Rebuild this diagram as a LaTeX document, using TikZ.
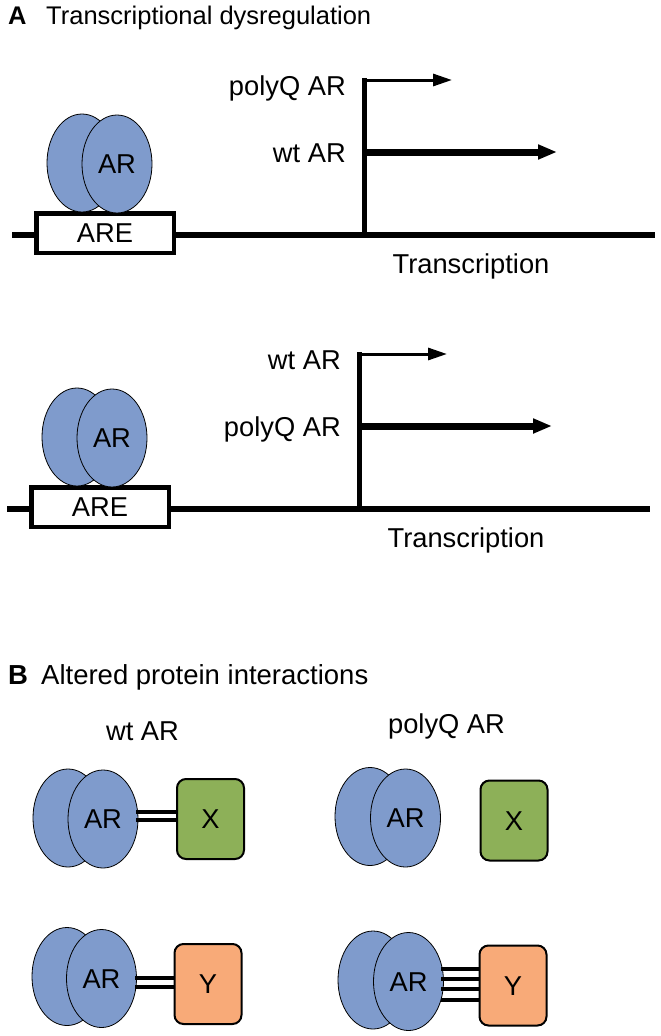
\documentclass[tikz,border=0pt]{standalone}
\usepackage{fontspec}
\setmainfont{Liberation Sans}
\usetikzlibrary{shapes.geometric,arrows.meta,calc}
\definecolor{arblue}{HTML}{7F9BCC}
\definecolor{xgreen}{HTML}{8DB058}
\definecolor{yorange}{HTML}{F8AA78}
\begin{document}
\begin{tikzpicture}[x=1pt,y=-1pt,
  every node/.style={font=\fontsize{27.3}{30}\selectfont, inner sep=0pt},
  lobe/.style={ellipse, draw, line width=0.8pt, fill=arblue, minimum width=70pt, minimum height=98pt, inner sep=0pt, text height=19.5pt, text depth=0pt},
  dna/.style={line width=6.5pt},
  are/.style={draw, line width=4.5pt, fill=white, minimum width=137.5pt, minimum height=39.5pt, text height=19.5pt, text depth=0pt},
  prom/.style={line width=5pt},
  weak/.style={line width=3pt, -{Triangle[length=19pt,width=12pt]}},
  strong/.style={line width=7pt, -{Triangle[length=19pt,width=14pt]}},
  lbl/.style={anchor=base east},
  partner/.style={draw, line width=2pt, rounded corners=9pt, minimum width=67pt, minimum height=80pt, text height=19.5pt, text depth=0pt},
  bond/.style={line width=4pt}]
\useasboundingbox (0,0) rectangle (661,1036);

% Panel A title
\node[anchor=base west] (labA) at (8,24) {\fontsize{25.5}{28}\selectfont\textbf{A}};
\node[anchor=base west] (titA) at (46,24) {\fontsize{25.5}{28}\selectfont Transcriptional dysregulation};

\foreach \s/\dx/\dy/\ta/\tb in {1/0/0/polyQ AR/wt AR, 2/-5/274/wt AR/polyQ AR}{
\begin{scope}[shift={(\dx,\dy)}]
  \coordinate (dnaL\s) at (12,235);
  \coordinate (dnaR\s) at (655,235);
  \draw[dna] (dnaL\s) -- (dnaR\s);
  \node[are] (are\s) at (105,233) {ARE};
  \node[lobe] (lobeL\s) at (82,163) {};
  \node[lobe] (lobeR\s) at (117,164) {AR};
  \coordinate (tss\s) at (364,235);
  \coordinate (top\s) at (364,77.5);
  \draw[prom] (tss\s) -- (top\s);
  \coordinate (s1\s) at (362,80);
  \coordinate (e1\s) at (452,80);
  \coordinate (s2\s) at (364,152);
  \coordinate (e2\s) at (557,152);
  \draw[weak] (s1\s) -- (e1\s);
  \draw[strong] (s2\s) -- (e2\s);
  \node[lbl] (la\s) at (346,95) {\ta};
  \node[lbl] (lb\s) at (346,162) {\tb};
  \node[anchor=base] (tr\s) at (471,273) {Transcription};
\end{scope}
}

% Panel B title
\node[anchor=base west] (labB) at (8,684) {\fontsize{27.5}{30}\selectfont\textbf{B}};
\node[anchor=base west] (titB) at (41,684) {\fontsize{27.5}{30}\selectfont Altered protein interactions};
\node[anchor=base] (hwt) at (142.5,740) {wt AR};
\node[anchor=base] (hpq) at (446.5,733) {polyQ AR};

% wt AR with X
\node[lobe] (pL1) at (68,818) {};
\node[lobe] (pR1) at (103,819) {AR};
\node[partner, fill=xgreen] (bx1) at (210.5,819) {X};
\draw[bond] ($(bx1.west)+(0,-7.5)$) coordinate (b1a) -- ([xshift=-2pt]b1a -| pR1.east);
\draw[bond] ($(bx1.west)+(0,0.5)$) coordinate (b1b) -- ([xshift=-2pt]b1b -| pR1.east);

% wt AR with Y
\node[lobe] (pL2) at (67,976.5) {};
\node[lobe] (pR2) at (101.5,978.5) {AR};
\node[partner, fill=yorange] (bx2) at (208,984) {Y};
\draw[bond] ($(bx2.west)+(0,-6.5)$) coordinate (b2a) -- ([xshift=-2pt]b2a -| pR2.east);
\draw[bond] ($(bx2.west)+(0,2.5)$) coordinate (b2b) -- ([xshift=-2pt]b2b -| pR2.east);

% polyQ AR with X (no bond)
\node[lobe] (pL3) at (370,816.5) {};
\node[lobe] (pR3) at (405.5,818) {AR};
\node[partner, fill=xgreen] (bx3) at (514,820.5) {X};

% polyQ AR with Y (four bonds)
\node[lobe] (pL4) at (373,980) {};
\node[lobe] (pR4) at (408.5,981.5) {AR};
\node[partner, fill=yorange] (bx4) at (513,985.5) {Y};
\foreach \k/\o in {a/-16.5, b/-6.5, c/3.5, d/14}{
  \draw[bond] ($(bx4.west)+(0,\o)$) coordinate (b4\k) -- ([xshift=-3pt]b4\k -| pR4.east);
}
\end{tikzpicture}
\end{document}
